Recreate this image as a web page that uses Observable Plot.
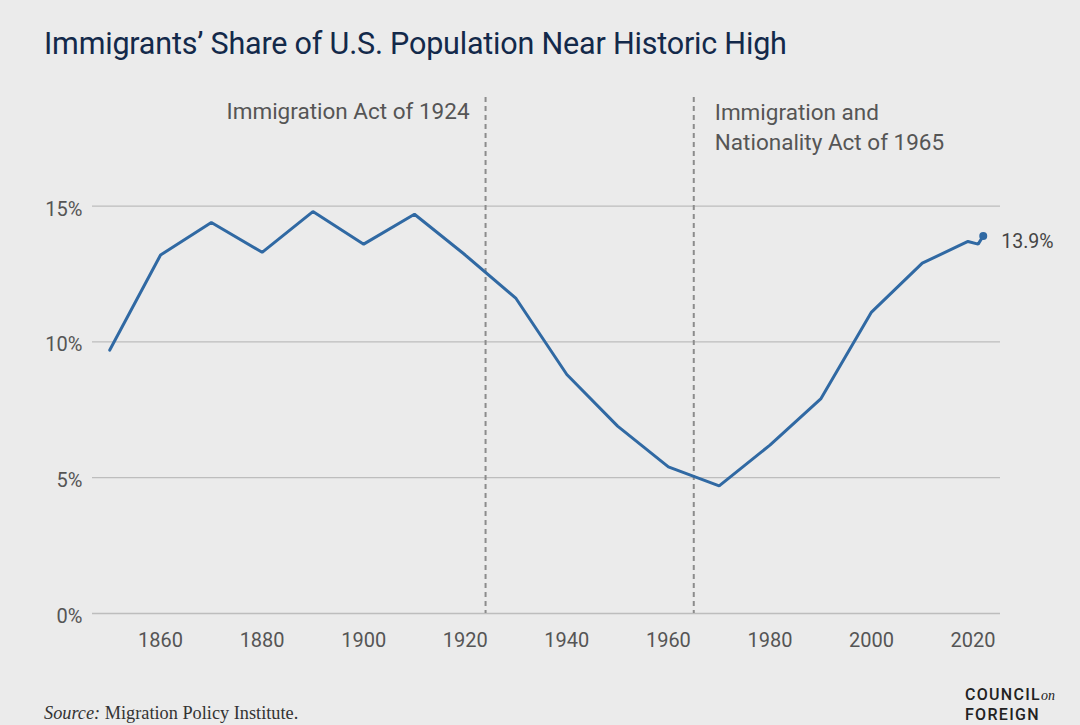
<!DOCTYPE html>
<html><head><meta charset="utf-8">
<script src="https://cdn.jsdelivr.net/npm/d3@7"></script>
<script src="https://cdn.jsdelivr.net/npm/@observablehq/plot@0.6"></script>
<style>
html,body{margin:0;padding:0;background:#ebebeb;}
#wrap{position:relative;width:1080px;height:725px;overflow:hidden;background:#ebebeb;font-family:Roboto,sans-serif;}
#title{position:absolute;left:44px;top:26px;font-size:30.5px;line-height:36px;color:#13294a;white-space:nowrap;letter-spacing:-0.2px;}
#chart{position:absolute;left:0;top:80px;}
#source{position:absolute;left:44px;top:703px;font-family:"Liberation Serif",serif;font-size:18.3px;color:#333;white-space:nowrap;}
#logo{position:absolute;left:965px;top:685px;font-family:Roboto,sans-serif;font-weight:500;font-size:16px;line-height:19px;letter-spacing:1.3px;color:#222;}
#logo i{font-family:"Liberation Serif",serif;font-size:14px;letter-spacing:0;font-weight:400;}
</style>
</head><body>
<div id="wrap">
  <div id="title">Immigrants’ Share of U.S. Population Near Historic High</div>
  <div id="chart"></div>
  <div id="source"><i>Source:</i> Migration Policy Institute.</div>
  <div id="logo">COUNCIL<i>on</i><br>FOREIGN</div>
</div>
<script>
const years  = [1850,1860,1870,1880,1890,1900,1910,1920,1930,1940,1950,1960,1970,1980,1990,2000,2010,2019,2021,2022];
const shares = [9.7,13.2,14.4,13.3,14.8,13.6,14.7,13.2,11.6,8.8,6.9,5.4,4.7,6.2,7.9,11.1,12.9,13.7,13.6,13.9];
const xTicks = [1860,1880,1900,1920,1940,1960,1980,2000,2020];
const yTicks = [0,5,10,15];
const eventYears  = [1924,1965];
const eventLabels = ["Immigration Act of 1924","Immigration and\nNationality Act of 1965"];

const data = years.map((y,i)=>({year:y, share:shares[i]}));
const last = [data[data.length-1]];
const events = eventYears.map((y,i)=>({year:y, label:eventLabels[i]}));

const chart = Plot.plot({
  width:1080, height:585,
  marginLeft:92, marginRight:80, marginTop:17, marginBottom:52,
  style:{background:"transparent", fontFamily:"Roboto, sans-serif", fontSize:"20px", color:"#555"},
  x:{domain:[1846.6,2025.4], label:null},
  y:{domain:[0,19], label:null},
  marks:[
    Plot.gridY(yTicks,{stroke:"#bdbdbd", strokeOpacity:1, strokeWidth:1.3}),
    Plot.ruleX(events,{x:"year", stroke:"#8c8c8c", strokeWidth:2, strokeDasharray:"5,4"}),
    Plot.line(data,{x:"year", y:"share", stroke:"#3069a3", strokeWidth:3, strokeLinejoin:"miter"}),
    Plot.dot(last,{x:"year", y:"share", r:4, fill:"#3069a3"}),
    Plot.text(last,{x:"year", y:"share", text:d=>d.share.toFixed(1)+"%", textAnchor:"start", dx:18, dy:6, fontSize:19.5, fill:"#444"}),
    Plot.text(events.slice(0,1),{x:"year", text:"label", frameAnchor:"top", lineAnchor:"top", textAnchor:"end", dx:-16, dy:6, fontSize:22.5, fill:"#555"}),
    Plot.text(events.slice(1),{x:"year", text:"label", frameAnchor:"top", lineAnchor:"top", textAnchor:"start", dx:21, dy:2, fontSize:22.5, lineHeight:1.3, fill:"#555"}),
    Plot.axisX({ticks:xTicks, tickFormat:d=>String(d), tickSize:0, tickPadding:19, fill:"#555"}),
    Plot.axisY({ticks:yTicks, tickFormat:d=>d+"%", tickSize:0, tickPadding:10, dy:3, fill:"#555"})
  ]
});
document.getElementById("chart").appendChild(chart);
</script>
</body></html>
